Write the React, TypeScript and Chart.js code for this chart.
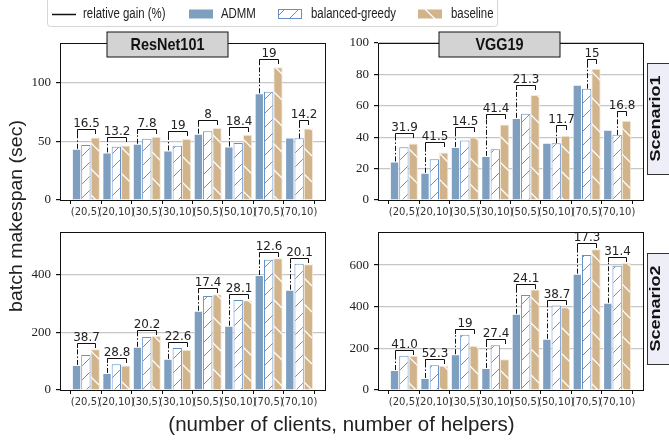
import React, { useEffect, useRef } from 'react';
import { Chart, registerables } from 'chart.js';

Chart.register(...registerables);

const W = 669;
const H = 441;

const categories = ['(20,5)', '(20,10)', '(30,5)', '(30,10)', '(50,5)', '(50,10)', '(70,5)', '(70,10)'];
const seriesNames = ['ADMM', 'balanced-greedy', 'baseline'];

const resnetS1Admm = [43.7, 40.6, 48.0, 42.3, 56.6, 45.7, 91.1, 53.4];
const resnetS1Greedy = [47.0, 45.4, 52.3, 46.3, 58.6, 48.6, 92.3, 52.6];
const resnetS1Baseline = [53.4, 46.6, 54.0, 52.0, 61.4, 55.7, 113.4, 61.1];
const resnetS1Gain = ['16.5', '13.2', '7.8', '19', '8', '18.4', '19', '14.2'];

const vggS1Admm = [24.6, 17.4, 33.8, 28.1, 52.3, 36.4, 73.4, 44.7];
const vggS1Greedy = [33.6, 26.0, 37.9, 32.3, 54.9, 36.2, 70.9, 41.5];
const vggS1Baseline = [36.0, 30.2, 39.8, 48.1, 66.8, 41.0, 83.6, 50.4];
const vggS1Gain = ['31.9', '41.5', '14.5', '41.4', '21.3', '11.7', '15', '16.8'];

const resnetS2Admm = [87, 59, 150, 108, 275, 223, 399, 348];
const resnetS2Greedy = [121, 89, 184, 146, 326, 312, 452, 438];
const resnetS2Baseline = [141, 85, 187, 140, 332, 311, 457, 436];
const resnetS2Gain = ['38.7', '28.8', '20.2', '22.6', '17.4', '28.1', '12.6', '20.1'];

const vggS2Admm = [96, 58, 172, 106, 366, 246, 559, 419];
const vggS2Greedy = [165, 119, 265, 215, 456, 406, 648, 597];
const vggS2Baseline = [164, 116, 213, 148, 483, 398, 676, 610];
const vggS2Gain = ['41.0', '52.3', '19', '27.4', '24.1', '38.7', '17.3', '31.4'];

const ADMM_COLOR = '#7f9fc0';
const GREEDY_EDGE = '#6390c8';
const BASELINE_COLOR = '#d2b48c';
const Y_W = 40;
const X_H = 20;
const X_MIN = -0.85;
const X_MAX = 7.85;

type Panel = {
  admm: number[];
  greedy: number[];
  baseline: number[];
  gain: string[];
  yMax: number;
  yStep: number;
  offset: number;
  area: { left: number; top: number; right: number; bottom: number };
  title?: { text: string; cx: number; cy: number };
  row?: { text: string; x: number; top: number; bottom: number };
  global?: boolean;
};

const panels: Panel[] = [
  {
    admm: resnetS1Admm, greedy: resnetS1Greedy, baseline: resnetS1Baseline, gain: resnetS1Gain,
    yMax: 134, yStep: 50, offset: 7,
    area: { left: 60, top: 43, right: 325, bottom: 200 },
    title: { text: 'ResNet101', cx: 167.5, cy: 44.5 },
    global: true,
  },
  {
    admm: vggS1Admm, greedy: vggS1Greedy, baseline: vggS1Baseline, gain: vggS1Gain,
    yMax: 100, yStep: 20, offset: 6.5,
    area: { left: 378, top: 43, right: 643, bottom: 200 },
    title: { text: 'VGG19', cx: 499.5, cy: 44.5 },
    row: { text: 'Scenario1', x: 647, top: 63, bottom: 174 },
  },
  {
    admm: resnetS2Admm, greedy: resnetS2Greedy, baseline: resnetS2Baseline, gain: resnetS2Gain,
    yMax: 548, yStep: 200, offset: 21,
    area: { left: 60, top: 232, right: 325, bottom: 390 },
  },
  {
    admm: vggS2Admm, greedy: vggS2Greedy, baseline: vggS2Baseline, gain: vggS2Gain,
    yMax: 759, yStep: 200, offset: 28,
    area: { left: 378, top: 232, right: 643, bottom: 390 },
    row: { text: 'Scenario2', x: 647, top: 253, bottom: 364 },
  },
];

function makeHatch(bg: string, fg: string, size: number, dir: string, lw: number) {
  const c = document.createElement('canvas');
  c.width = size;
  c.height = size;
  const x = c.getContext('2d') as CanvasRenderingContext2D;
  x.fillStyle = bg;
  x.fillRect(0, 0, size, size);
  x.strokeStyle = fg;
  x.lineWidth = lw;
  x.beginPath();
  for (const k of [-size, 0, size]) {
    if (dir === '/') {
      x.moveTo(k, size);
      x.lineTo(k + size, 0);
    } else {
      x.moveTo(k, 0);
      x.lineTo(k + size, size);
    }
  }
  x.stroke();
  return x.createPattern(c, 'repeat') as CanvasPattern;
}

function drawText(
  ctx: CanvasRenderingContext2D, text: string, x: number, y: number, font: string, color: string,
  align: CanvasTextAlign, baseline: CanvasTextBaseline, sx = 1, sy = 1, rot = 0,
) {
  ctx.save();
  ctx.translate(x, y);
  if (rot) ctx.rotate(rot);
  ctx.scale(sx, sy);
  ctx.font = font;
  ctx.fillStyle = color;
  ctx.textAlign = align;
  ctx.textBaseline = baseline;
  ctx.fillText(text, 0, 0);
  ctx.restore();
}

function toPoints(values: number[]) {
  return values.map((y, i) => ({ x: i, y }));
}

function makeConfig(p: Panel, greedyPat: CanvasPattern, basePat: CanvasPattern): any {
  const bracketPlugin = {
    id: 'brackets',
    afterDatasetsDraw(chart: any) {
      const ctx: CanvasRenderingContext2D = chart.ctx;
      const ys = chart.scales.y;
      const metas = [0, 1, 2].map((d) => chart.getDatasetMeta(d));
      const series = [p.admm, p.greedy, p.baseline];
      categories.forEach((_, i) => {
        const v = series.map((s) => s[i]);
        let lo = 0;
        for (let k = 1; k < 3; k++) if (v[k] < v[lo]) lo = k;
        const hi = Math.max(...v);
        const yl = Math.round(ys.getPixelForValue(hi + p.offset)) + 0.5;
        const x1 = Math.round(metas[lo].data[i].x) + 0.5;
        const x2 = Math.round(metas[2].data[i].x) + 0.5;
        const yb = ys.getPixelForValue(v[lo]);
        ctx.save();
        ctx.strokeStyle = '#111';
        ctx.lineWidth = 1;
        ctx.setLineDash([5, 2, 1.5, 2]);
        ctx.beginPath();
        ctx.moveTo(x1, yb);
        ctx.lineTo(x1, yl);
        ctx.stroke();
        ctx.setLineDash([]);
        ctx.beginPath();
        ctx.moveTo(x1, yl + 4.5);
        ctx.lineTo(x1, yl);
        ctx.lineTo(x2, yl);
        ctx.lineTo(x2, yl + 4.5);
        ctx.stroke();
        ctx.restore();
        drawText(ctx, p.gain[i], (x1 + x2) / 2, yl - 3, '13px "DejaVu Sans"', '#222', 'center', 'alphabetic', 0.92);
      });
    },
  };

  const decorPlugin = {
    id: 'decor',
    afterDraw(chart: any) {
      const ctx: CanvasRenderingContext2D = chart.ctx;
      const a = chart.chartArea;
      ctx.save();
      ctx.strokeStyle = '#111';
      ctx.lineWidth = 1;
      ctx.strokeRect(Math.round(a.left) + 0.5, Math.round(a.top) + 0.5, Math.round(a.right - a.left), Math.round(a.bottom - a.top));
      ctx.restore();

      if (p.title) {
        const t = p.title;
        ctx.save();
        ctx.fillStyle = '#d3d3d3';
        ctx.strokeStyle = '#111';
        ctx.lineWidth = 1;
        ctx.fillRect(t.cx - 60.5, t.cy - 12.5, 121, 25);
        ctx.strokeRect(t.cx - 60.5, t.cy - 12.5, 121, 25);
        ctx.restore();
        drawText(ctx, t.text, t.cx, t.cy + 1, 'bold 17px "Liberation Sans"', '#111', 'center', 'middle', 0.85);
      }
      if (p.row) {
        const r = p.row;
        ctx.save();
        ctx.fillStyle = '#eeeef8';
        ctx.strokeStyle = '#333';
        ctx.lineWidth = 1;
        ctx.fillRect(r.x + 0.5, r.top + 0.5, 40, r.bottom - r.top);
        ctx.strokeRect(r.x + 0.5, r.top + 0.5, 40, r.bottom - r.top);
        ctx.restore();
        drawText(ctx, r.text, r.x + 9, (r.top + r.bottom) / 2, 'bold 18px "Liberation Sans"', '#111', 'center', 'middle', 1, 0.82, -Math.PI / 2);
      }
      if (p.global) {
        ctx.save();
        ctx.fillStyle = '#ffffff';
        ctx.strokeStyle = '#d6d6d6';
        ctx.lineWidth = 1;
        ctx.beginPath();
        (ctx as any).roundRect(47.5, -6.5, 450, 33, 3);
        ctx.fill();
        ctx.stroke();
        ctx.strokeStyle = '#111';
        ctx.lineWidth = 1.5;
        ctx.beginPath();
        ctx.moveTo(52, 14.5);
        ctx.lineTo(76, 14.5);
        ctx.stroke();
        ctx.fillStyle = ADMM_COLOR;
        ctx.fillRect(189, 9.5, 24, 9);
        ctx.fillStyle = greedyPat;
        ctx.fillRect(278, 9.5, 24, 9);
        ctx.strokeStyle = GREEDY_EDGE;
        ctx.lineWidth = 1;
        ctx.strokeRect(278.5, 9.5, 23, 9);
        ctx.fillStyle = basePat;
        ctx.fillRect(418, 9.5, 24, 9);
        ctx.restore();
        const lf = '14px "Liberation Sans"';
        drawText(ctx, 'relative gain (%)', 83, 14.5, lf, '#222', 'left', 'middle', 0.815);
        drawText(ctx, seriesNames[0], 221, 14.5, lf, '#222', 'left', 'middle', 0.815);
        drawText(ctx, seriesNames[1], 311, 14.5, lf, '#222', 'left', 'middle', 0.815);
        drawText(ctx, seriesNames[2], 451, 14.5, lf, '#222', 'left', 'middle', 0.815);
        drawText(ctx, 'batch makespan (sec)', 17, 216, '19.5px "Liberation Sans"', '#222', 'center', 'middle', 1, 0.95, -Math.PI / 2);
        drawText(ctx, '(number of clients, number of helpers)', 341.5, 425, '20.5px "Liberation Sans"', '#222', 'center', 'middle');
      }
    },
  };

  const barOpts = { categoryPercentage: 0.92, barPercentage: 1 };

  return {
    type: 'bar',
    data: {
      datasets: [
        { label: seriesNames[0], data: toPoints(p.admm), backgroundColor: ADMM_COLOR, borderColor: '#ffffff', borderWidth: 1, ...barOpts },
        { label: seriesNames[1], data: toPoints(p.greedy), backgroundColor: greedyPat, borderColor: GREEDY_EDGE, borderWidth: 1, ...barOpts },
        { label: seriesNames[2], data: toPoints(p.baseline), backgroundColor: basePat, borderColor: '#f4ead9', borderWidth: 1, ...barOpts },
      ],
    },
    options: {
      animation: false,
      responsive: false,
      maintainAspectRatio: false,
      devicePixelRatio: 1,
      events: [],
      layout: {
        padding: {
          left: p.area.left - Y_W,
          top: p.area.top,
          right: W - p.area.right,
          bottom: H - p.area.bottom - X_H,
        },
      },
      plugins: { legend: { display: false }, tooltip: { enabled: false } },
      scales: {
        x: {
          type: 'linear',
          min: X_MIN,
          max: X_MAX,
          offset: false,
          afterBuildTicks: (s: any) => { s.ticks = categories.map((_, i) => ({ value: i })); },
          grid: { display: true, drawOnChartArea: false, drawTicks: true, tickLength: 4, tickColor: '#111', color: '#111' },
          border: { display: true, color: '#111', width: 1 },
          ticks: {
            autoSkip: false, maxRotation: 0, minRotation: 0, padding: 2, color: '#333',
            font: { family: '"DejaVu Sans"', size: 10 },
            callback: (v: any) => categories[Math.round(v)] ?? '',
          },
          afterFit: (s: any) => { s.height = X_H; },
        },
        y: {
          min: 0,
          max: p.yMax,
          grid: {
            color: (c: any) => (c.tick && c.tick.value === 0 ? 'rgba(0,0,0,0)' : '#c6c6c6'),
            lineWidth: 1.2,
            drawTicks: true,
            tickLength: 4,
            tickColor: '#111',
          },
          border: { display: true, color: '#111', width: 1 },
          ticks: { stepSize: p.yStep, includeBounds: false, padding: 5, color: '#222', font: { family: '"Liberation Serif"', size: 13 } },
          afterFit: (s: any) => { s.width = Y_W; },
        },
      },
    },
    plugins: [bracketPlugin, decorPlugin],
  };
}

export default function App() {
  const r0 = useRef<HTMLCanvasElement>(null);
  const r1 = useRef<HTMLCanvasElement>(null);
  const r2 = useRef<HTMLCanvasElement>(null);
  const r3 = useRef<HTMLCanvasElement>(null);
  const refs = [r0, r1, r2, r3];

  useEffect(() => {
    const greedyPat = makeHatch('#ffffff', GREEDY_EDGE, 14, '/', 1);
    const basePat = makeHatch(BASELINE_COLOR, '#ffffff', 26, '\\', 1.3);
    const charts = panels.map((p, i) => new Chart(refs[i].current as HTMLCanvasElement, makeConfig(p, greedyPat, basePat)));
    return () => charts.forEach((c) => c.destroy());
  }, []);

  return (
    <div style={{ position: 'absolute', left: 0, top: 0, width: W, height: H, background: '#ffffff', overflow: 'hidden' }}>
      {refs.map((r, i) => (
        <canvas key={i} ref={r} width={W} height={H} style={{ position: 'absolute', left: 0, top: 0, width: W, height: H }} />
      ))}
    </div>
  );
}
